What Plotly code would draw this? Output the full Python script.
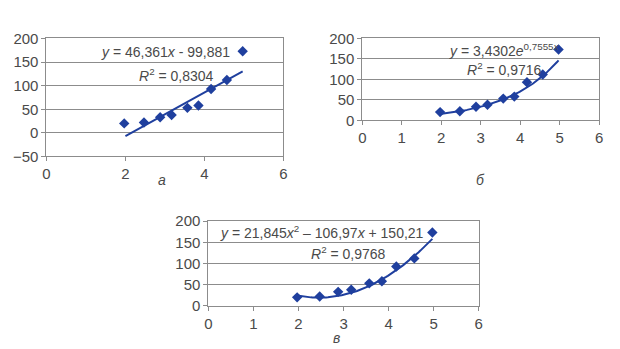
import numpy as np
import plotly.graph_objects as go

# Observed points (same data in all three panels)
x_vals = [1.97, 2.47, 2.88, 3.17, 3.57, 3.85, 4.17, 4.57, 4.97]
y_vals = [20, 22, 33, 38, 53, 58, 93, 112, 173]

# Trend-line coefficients as printed on each panel
lin_a, lin_b = 46.361, -99.881
exp_a, exp_b = 3.4302, 0.7555
quad_a, quad_b, quad_c = 21.845, -106.97, 150.21

panel_labels = ["а", "б", "в"]
x_ticks = [0, 1, 2, 3, 4, 5, 6]

BLUE = "#1f3f9e"
GRID = "#8c8c8c"
TEXT = "#4a4a4a"
FONT = "Liberation Sans, Arial, sans-serif"

fig = go.Figure()

xs_line = np.linspace(1.97, 4.97, 80)
xs_lin = np.linspace(2.0, 4.97, 2)

fits = [
    (xs_lin, lin_a * xs_lin + lin_b),
    (xs_line, exp_a * np.exp(exp_b * xs_line)),
    (xs_line, quad_a * xs_line ** 2 + quad_b * xs_line + quad_c),
]

for i, (fx, fy) in enumerate(fits):
    ax = "" if i == 0 else str(i + 1)
    fig.add_trace(go.Scatter(x=fx, y=fy, mode="lines",
                             line=dict(color=BLUE, width=2),
                             xaxis="x" + ax, yaxis="y" + ax, hoverinfo="skip"))
    fig.add_trace(go.Scatter(x=x_vals, y=y_vals, mode="markers",
                             marker=dict(symbol="diamond", size=8, color=BLUE),
                             xaxis="x" + ax, yaxis="y" + ax))

W, H = 620, 349


def dom_x(a, b):
    return [a / W, b / W]


def dom_y(top, bottom):
    return [1 - bottom / H, 1 - top / H]


panels = [
    dict(xd=dom_x(43, 283), yd=dom_y(31, 155), xr=[0, 6], yr=[-50, 200],
         xt=[0, 2, 4, 6], yt=[-50, 0, 50, 100, 150, 200]),
    dict(xd=dom_x(363, 603), yd=dom_y(31, 117), xr=[0, 6], yr=[0, 200],
         xt=x_ticks, yt=[0, 50, 100, 150, 200]),
    dict(xd=dom_x(207, 481), yd=dom_y(223, 312), xr=[0, 6], yr=[0, 200],
         xt=x_ticks, yt=[0, 50, 100, 150, 200]),
]

layout = dict(
    width=W, height=H, margin=dict(l=0, r=0, t=0, b=0),
    paper_bgcolor="white", plot_bgcolor="white", showlegend=False,
    font=dict(family=FONT, size=14, color=TEXT),
)

for i, p in enumerate(panels):
    ax = "" if i == 0 else str(i + 1)
    layout["xaxis" + ax] = dict(
        domain=p["xd"], range=p["xr"], tickvals=p["xt"], showgrid=False,
        zeroline=False, showline=True, linecolor=GRID, mirror=True,
        ticks="outside", ticklen=4, tickcolor=GRID, anchor="y" + ax,
        tickfont=dict(size=15, color=TEXT), fixedrange=True,
    )
    layout["yaxis" + ax] = dict(
        domain=p["yd"], range=p["yr"], tickvals=p["yt"], showgrid=True,
        gridcolor=GRID, gridwidth=1, zeroline=False, showline=True,
        linecolor=GRID, mirror=True, ticks="outside", ticklen=4,
        tickcolor=GRID, anchor="x" + ax,
        tickfont=dict(size=15, color=TEXT), fixedrange=True,
    )

fig.update_layout(**layout)

eq_font = dict(family=FONT, size=14, color=TEXT)
annotations = [
    dict(text="<i>y</i> = 46,361<i>x</i> - 99,881", x=164 / W, y=1 - 45 / H),
    dict(text="<i>R</i><sup>2</sup> = 0,8304", x=175 / W, y=1 - 69 / H),
    dict(text="<i>y</i> = 3,4302<i>e</i><sup>0,7555<i>x</i></sup>", x=507 / W, y=1 - 43 / H),
    dict(text="<i>R</i><sup>2</sup> = 0,9716", x=507 / W, y=1 - 63 / H),
    dict(text="<i>y</i> = 21,845<i>x</i><sup>2</sup> – 106,97<i>x</i> + 150,21", x=322 / W, y=1 - 234 / H),
    dict(text="<i>R</i><sup>2</sup> = 0,9768", x=349 / W, y=1 - 257 / H),
    dict(text="<i>" + panel_labels[0] + "</i>", x=160 / W, y=1 - 180 / H),
    dict(text="<i>" + panel_labels[1] + "</i>", x=483 / W, y=1 - 180 / H),
    dict(text="<i>" + panel_labels[2] + "</i>", x=337 / W, y=1 - 346 / H),
]
for a in annotations:
    fig.add_annotation(xref="paper", yref="paper", showarrow=False,
                       xanchor="center", yanchor="middle", font=eq_font, **a)

fig.write_html("out.html")
